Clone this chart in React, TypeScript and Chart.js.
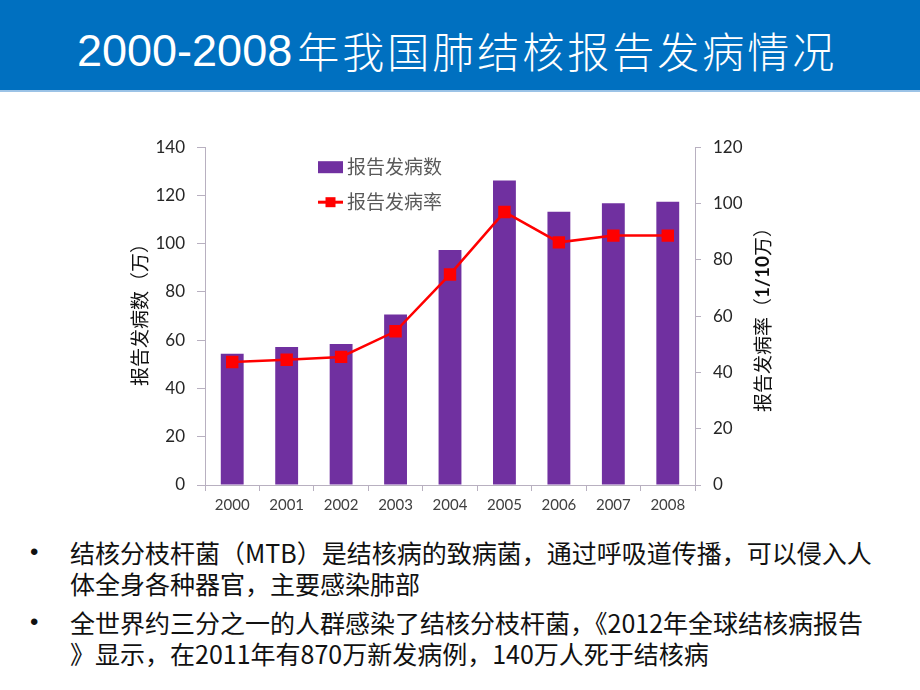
import React, { useEffect, useRef } from "react";
import { Chart, registerables } from "chart.js";

Chart.register(...registerables);

const years = ["2000", "2001", "2002", "2003", "2004", "2005", "2006", "2007", "2008"];
const reportedCases = [54.4, 57.2, 58.4, 70.7, 97.4, 126.2, 113.2, 116.8, 117.4];
const reportedRate = [43.7, 44.5, 45.5, 54.6, 74.8, 97.0, 86.2, 88.6, 88.6];
const leftMax = 140;
const rightMax = 120;
const tickStep = 20;

const casesLabel = "报告发病数";
const rateLabel = "报告发病率";
const leftTitle = "报告发病数（万）";
const rightTitleParts = [
  { text: "报告发病率（", bold: false },
  { text: "1/10", bold: true },
  { text: "万）", bold: false },
];

const pageTitleNum = "2000-2008";
const pageTitleText = "年我国肺结核报告发病情况";
const bulletLines = [
  ["结核分枝杆菌（MTB）是结核病的致病菌，通过呼吸道传播，可以侵入人", "体全身各种器官，主要感染肺部"],
  ["全世界约三分之一的人群感染了结核分枝杆菌，《2012年全球结核病报告", "》显示，在2011年有870万新发病例，140万人死于结核病"],
];

const PURPLE = "#7030A0";
const RED = "#FF0000";
const AXIS = "#b8b0c0";
const CJK = "'Noto Sans CJK SC', sans-serif";
const NUM = "Lato, 'Open Sans', sans-serif";
const CANVAS_LEFT = 110;
const CANVAS_TOP = 125;

const overlayPlugin = {
  id: "overlay",
  afterDraw(chart: any) {
    const ctx = chart.ctx;
    const ca = chart.chartArea;
    // legend
    const lx = ca.left + 113;
    const rows = [ca.top + 20, ca.top + 55];
    chart.data.datasets.forEach((ds: any, i: number) => {
      const y = rows[i];
      ctx.save();
      if (ds.type === "line") {
        ctx.strokeStyle = ds.borderColor;
        ctx.lineWidth = 3;
        ctx.beginPath();
        ctx.moveTo(lx, y);
        ctx.lineTo(lx + 25, y);
        ctx.stroke();
        ctx.fillStyle = ds.pointBackgroundColor;
        ctx.fillRect(lx + 12.5 - 5, y - 5, 10, 10);
      } else {
        ctx.fillStyle = ds.backgroundColor;
        ctx.fillRect(lx, y - 6, 25, 12);
      }
      ctx.fillStyle = "#595959";
      ctx.font = `19px ${CJK}`;
      ctx.textBaseline = "middle";
      ctx.textAlign = "left";
      ctx.fillText(ds.label, lx + 29, y);
      ctx.restore();
    });
    // left axis title
    ctx.save();
    ctx.translate(140 - CANVAS_LEFT, 310 - CANVAS_TOP);
    ctx.rotate(-Math.PI / 2);
    ctx.fillStyle = "#111";
    ctx.font = `19px ${CJK}`;
    ctx.textAlign = "center";
    ctx.textBaseline = "middle";
    ctx.fillText(leftTitle, 0, 0);
    ctx.restore();
    // right axis title (rich text)
    ctx.save();
    ctx.translate(763 - CANVAS_LEFT, 315 - CANVAS_TOP);
    ctx.rotate(-Math.PI / 2);
    ctx.fillStyle = "#111";
    ctx.textBaseline = "middle";
    ctx.textAlign = "left";
    const fontFor = (b: boolean) => (b ? `bold 19px ${NUM}` : `19px ${CJK}`);
    let total = 0;
    rightTitleParts.forEach((p) => {
      ctx.font = fontFor(p.bold);
      total += ctx.measureText(p.text).width;
    });
    let x = -total / 2;
    rightTitleParts.forEach((p) => {
      ctx.font = fontFor(p.bold);
      ctx.fillText(p.text, x, 0);
      x += ctx.measureText(p.text).width;
    });
    ctx.restore();
  },
};

function ChartBox() {
  const ref = useRef<HTMLCanvasElement | null>(null);
  useEffect(() => {
    if (!ref.current) return;
    const chart = new Chart(ref.current, {
      type: "bar",
      data: {
        labels: years,
        datasets: [
          {
            type: "bar",
            label: casesLabel,
            data: reportedCases,
            backgroundColor: PURPLE,
            yAxisID: "y",
            categoryPercentage: 1,
            barPercentage: 0.42,
            order: 2,
          } as any,
          {
            type: "line",
            label: rateLabel,
            data: reportedRate,
            borderColor: RED,
            backgroundColor: RED,
            pointBackgroundColor: RED,
            pointBorderColor: RED,
            pointStyle: "rect",
            pointRadius: 7,
            borderWidth: 2.5,
            tension: 0,
            yAxisID: "y1",
            order: 1,
          } as any,
        ],
      },
      options: {
        animation: false,
        responsive: true,
        maintainAspectRatio: false,
        layout: { padding: { top: 15, left: 0, right: 0, bottom: 0 } },
        plugins: { legend: { display: false }, tooltip: { enabled: false } },
        scales: {
          x: {
            afterFit: (s: any) => {
              s.height = 40;
            },
            grid: {
              display: true,
              drawOnChartArea: false,
              drawTicks: true,
              tickLength: 6,
              color: AXIS,
              offset: true,
            },
            border: { display: true, color: AXIS },
            ticks: { font: { size: 15, family: NUM }, color: "#404040", padding: 5 },
          },
          y: {
            position: "left",
            min: 0,
            max: leftMax,
            afterFit: (s: any) => {
              s.width = 95;
            },
            grid: { drawOnChartArea: false, drawTicks: true, tickLength: 8, color: AXIS },
            border: { display: true, color: AXIS },
            ticks: { stepSize: tickStep, font: { size: 17, family: NUM }, color: "#262626", padding: 12 },
          },
          y1: {
            position: "right",
            min: 0,
            max: rightMax,
            afterFit: (s: any) => {
              s.width = 115;
            },
            grid: { drawOnChartArea: false, drawTicks: true, tickLength: 6, color: AXIS },
            border: { display: true, color: AXIS },
            ticks: { stepSize: tickStep, font: { size: 17, family: NUM }, color: "#262626", padding: 12 },
          },
        },
      },
      plugins: [overlayPlugin],
    });
    return () => chart.destroy();
  }, []);
  return (
    <div style={{ position: "absolute", left: CANVAS_LEFT, top: CANVAS_TOP, width: 700, height: 400 }}>
      <canvas ref={ref} />
    </div>
  );
}

export default function App() {
  useEffect(() => {
    document.body.style.margin = "0";
  }, []);
  return (
    <div style={{ position: "relative", width: 920, height: 690, background: "#fff", overflow: "hidden" }}>
      <div
        style={{
          position: "absolute",
          left: 0,
          top: 0,
          width: 920,
          height: 90,
          background: "#0070C0",
          borderBottom: "2px solid #9cc3e6",
        }}
      />
      <div
        style={{
          position: "absolute",
          left: 77,
          top: 3,
          height: 90,
          lineHeight: "90px",
          fontFamily: "'Liberation Sans', Arial, sans-serif",
          fontSize: 45,
          color: "#fff",
          whiteSpace: "nowrap",
        }}
      >
        <span>{pageTitleNum}</span>
        <span
          style={{
            fontFamily: CJK,
            fontSize: 42,
            fontWeight: 300,
            letterSpacing: 3,
            marginLeft: 5,
            position: "relative",
            top: 2,
          }}
        >
          {pageTitleText}
        </span>
      </div>
      <ChartBox />
      {bulletLines.map((para, pi) => (
        <div key={pi}>
          <div
            style={{
              position: "absolute",
              left: 30,
              top: 537 + pi * 70,
              fontSize: 24,
              fontFamily: "'Liberation Sans', sans-serif",
              lineHeight: "30px",
              color: "#111",
            }}
          >
            •
          </div>
          {para.map((line, li) => (
            <div
              key={li}
              style={{
                position: "absolute",
                left: 70,
                top: 537 + pi * 70 + li * 31,
                fontSize: 25,
                lineHeight: "30px",
                fontFamily: CJK,
                color: "#111",
                whiteSpace: "nowrap",
              }}
            >
              {line}
            </div>
          ))}
        </div>
      ))}
    </div>
  );
}
